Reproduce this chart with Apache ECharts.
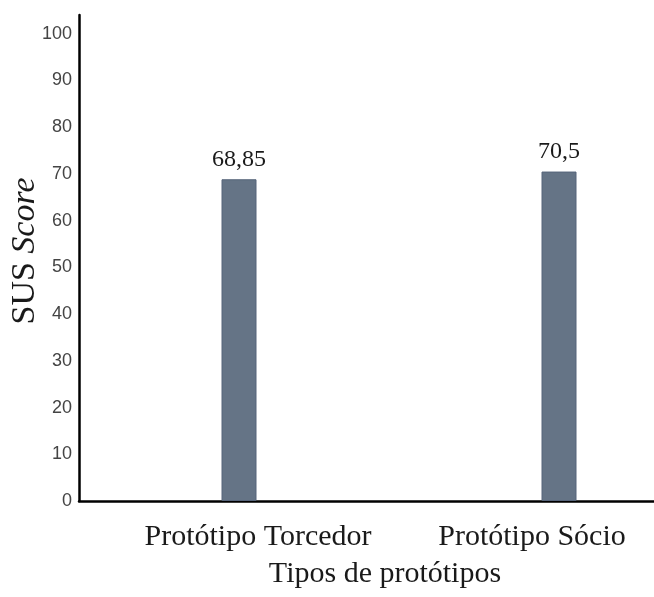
<!DOCTYPE html>
<html>
<head>
<meta charset="utf-8">
<script src="https://cdn.jsdelivr.net/npm/echarts@6/dist/echarts.min.js"></script>
<style>
  html, body { margin: 0; padding: 0; background: #fff; }
  #chart { width: 654px; height: 597px; }
</style>
</head>
<body>
<div id="chart"></div>
<script>
// dados
var categorias = ['Protótipo Torcedor', 'Protótipo Sócio'];
var susScore = [68.85, 70.5];
var rotulosY = [0, 10, 20, 30, 40, 50, 60, 70, 80, 90, 100];

var myChart = echarts.init(document.getElementById('chart'));

var serif = 'Liberation Serif';

var option = {
    animation: false,
    grid: {
        left: 79,
        right: -65,
        top: 15,
        bottom: 96,
        outerBoundsMode: 'none'
    },
    xAxis: {
        type: 'category',
        data: categorias,
        axisLine: {onZero: false, lineStyle: {color: '#000', width: 2.5}},
        axisTick: {show: false},
        axisLabel: {
            margin: 21,
            // desloca cada rótulo como na figura original
            formatter: function (v, i) {
                return '{c' + i + '|' + v + '}';
            },
            rich: {
                c0: {fontFamily: serif, fontSize: 30, color: '#1a1a1a', padding: [0, 0, 0, 38]},
                c1: {fontFamily: serif, fontSize: 30, color: '#1a1a1a', padding: [0, 54, 0, 0]}
            }
        },
        name: 'Tipos de protótipos',
        nameLocation: 'middle',
        nameGap: 58,
        nameTextStyle: {
            fontFamily: serif,
            fontSize: 30,
            color: '#1a1a1a',
            padding: [0, 28, 0, 0]
        }
    },
    yAxis: {
        type: 'value',
        min: 0,
        max: 104,
        splitLine: {show: false},
        axisTick: {show: false},
        axisLine: {show: true, lineStyle: {color: '#000', width: 2.5}},
        axisLabel: {
            customValues: rotulosY,
            fontFamily: 'Liberation Sans',
            fontSize: 18,
            color: '#444',
            margin: 7
        },
        name: '{a|SUS }{b|Score}',
        nameLocation: 'middle',
        nameGap: 37,
        nameMoveOverlap: false,
        nameTextStyle: {
            padding: [0, 0, 0, 14],
            rich: {
                a: {fontFamily: serif, fontSize: 34, color: '#1a1a1a'},
                b: {fontFamily: serif, fontSize: 34, fontStyle: 'italic', color: '#1a1a1a'}
            }
        }
    },
    series: [{
        type: 'bar',
        data: susScore,
        barWidth: 35,
        itemStyle: {
            color: '#657486',
            borderColor: '#56647a',
            borderWidth: 1
        },
        label: {
            show: true,
            position: 'top',
            distance: 8,
            fontFamily: serif,
            fontSize: 24,
            color: '#1a1a1a',
            formatter: function (p) {
                return String(p.value).replace('.', ',');
            }
        }
    }]
};

myChart.setOption(option);
</script>
</body>
</html>
